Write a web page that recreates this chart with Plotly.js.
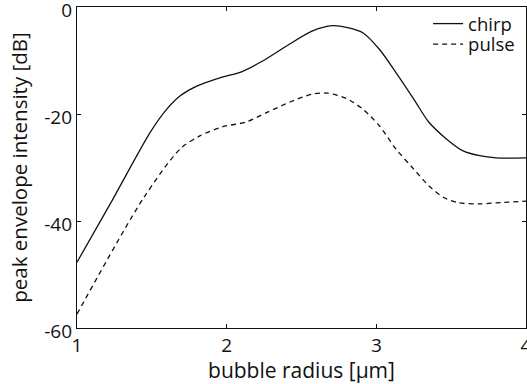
<!DOCTYPE html>
<html>
<head>
<meta charset="utf-8">
<script src="https://cdn.plot.ly/plotly-3.0.1.min.js"></script>
<style>html,body{margin:0;padding:0;background:#fff;}#chart{width:527px;height:384px;}</style>
</head>
<body>
<div id="chart"></div>
<script>
const chirpX = [1.0, 1.24, 1.49, 1.6, 1.69, 1.8, 1.97, 2.09, 2.24, 2.4, 2.57, 2.71, 2.8, 2.91, 3.02, 3.13, 3.25, 3.35, 3.47, 3.58, 3.69, 3.8, 4.0];
const chirpY = [-47.7, -35.9, -23.4, -19.1, -16.6, -14.8, -13.1, -12.2, -10.1, -7.3, -4.5, -3.5, -3.8, -4.8, -7.9, -12.2, -17.2, -21.5, -24.7, -26.9, -27.8, -28.2, -28.2];
const pulseX = [1.0, 1.44, 1.69, 1.82, 1.97, 2.13, 2.27, 2.42, 2.57, 2.67, 2.8, 2.91, 3.02, 3.13, 3.25, 3.35, 3.45, 3.55, 3.69, 3.8, 4.0];
const pulseY = [-57.4, -35.9, -26.5, -24.1, -22.4, -21.5, -19.7, -17.8, -16.3, -16.1, -17.1, -19.1, -22.2, -26.5, -30.3, -33.4, -35.6, -36.6, -36.8, -36.6, -36.3];
const xTickVals = [1, 2, 3, 4];
const xTickText = ['1', '2', '3', '4'];
const yTickVals = [0, -20, -40, -60];
const yTickText = ['0', '-20', '-40', '-60'];

const font = 'Open Sans, Noto Sans, sans-serif';
const data = [
  {x: chirpX, y: chirpY, name: 'chirp', mode: 'lines', legend: 'legend',
   line: {color: '#111', width: 1.3, shape: 'spline', smoothing: 0.8}},
  {x: pulseX, y: pulseY, name: 'pulse', mode: 'lines', legend: 'legend2',
   line: {color: '#111', width: 1.3, dash: '5px,4px', shape: 'spline', smoothing: 0.8}}
];
const legendBase = {xanchor: 'left', yanchor: 'top', bgcolor: 'rgba(0,0,0,0)', font: {size: 18.5}, itemwidth: 30};
const layout = {
  width: 527, height: 384,
  margin: {l: 77, r: 1, t: 7, b: 56},
  paper_bgcolor: '#fff', plot_bgcolor: '#fff',
  font: {family: font, size: 19, color: '#111'},
  showlegend: true,
  legend: Object.assign({x: 0.782, y: 1.006}, legendBase),
  legend2: Object.assign({x: 0.782, y: 0.942}, legendBase),
  xaxis: {
    range: [1, 4], tickvals: xTickVals, ticktext: xTickText,
    ticks: 'inside', ticklen: 4, tickcolor: '#111', showgrid: false, zeroline: false,
    showline: true, linecolor: '#111', linewidth: 1.2, mirror: 'ticks',
    ticklabeloverflow: 'allow',
    title: {text: 'bubble radius [µm]', font: {size: 21}, standoff: 0},
    tickfont: {size: 19}
  },
  yaxis: {
    range: [-60, 0], tickvals: yTickVals, ticktext: yTickText,
    ticks: 'inside', ticklen: 4, tickcolor: '#111', showgrid: false, zeroline: false,
    showline: true, linecolor: '#111', linewidth: 1.2, mirror: 'ticks',
    ticklabeloverflow: 'allow', ticklabelshift: 3,
    title: {text: 'peak envelope intensity [dB]', font: {size: 20.5}, standoff: 11},
    tickfont: {size: 19}
  }
};
Plotly.newPlot('chart', data, layout, {displayModeBar: false, staticPlot: true});
</script>
</body>
</html>
